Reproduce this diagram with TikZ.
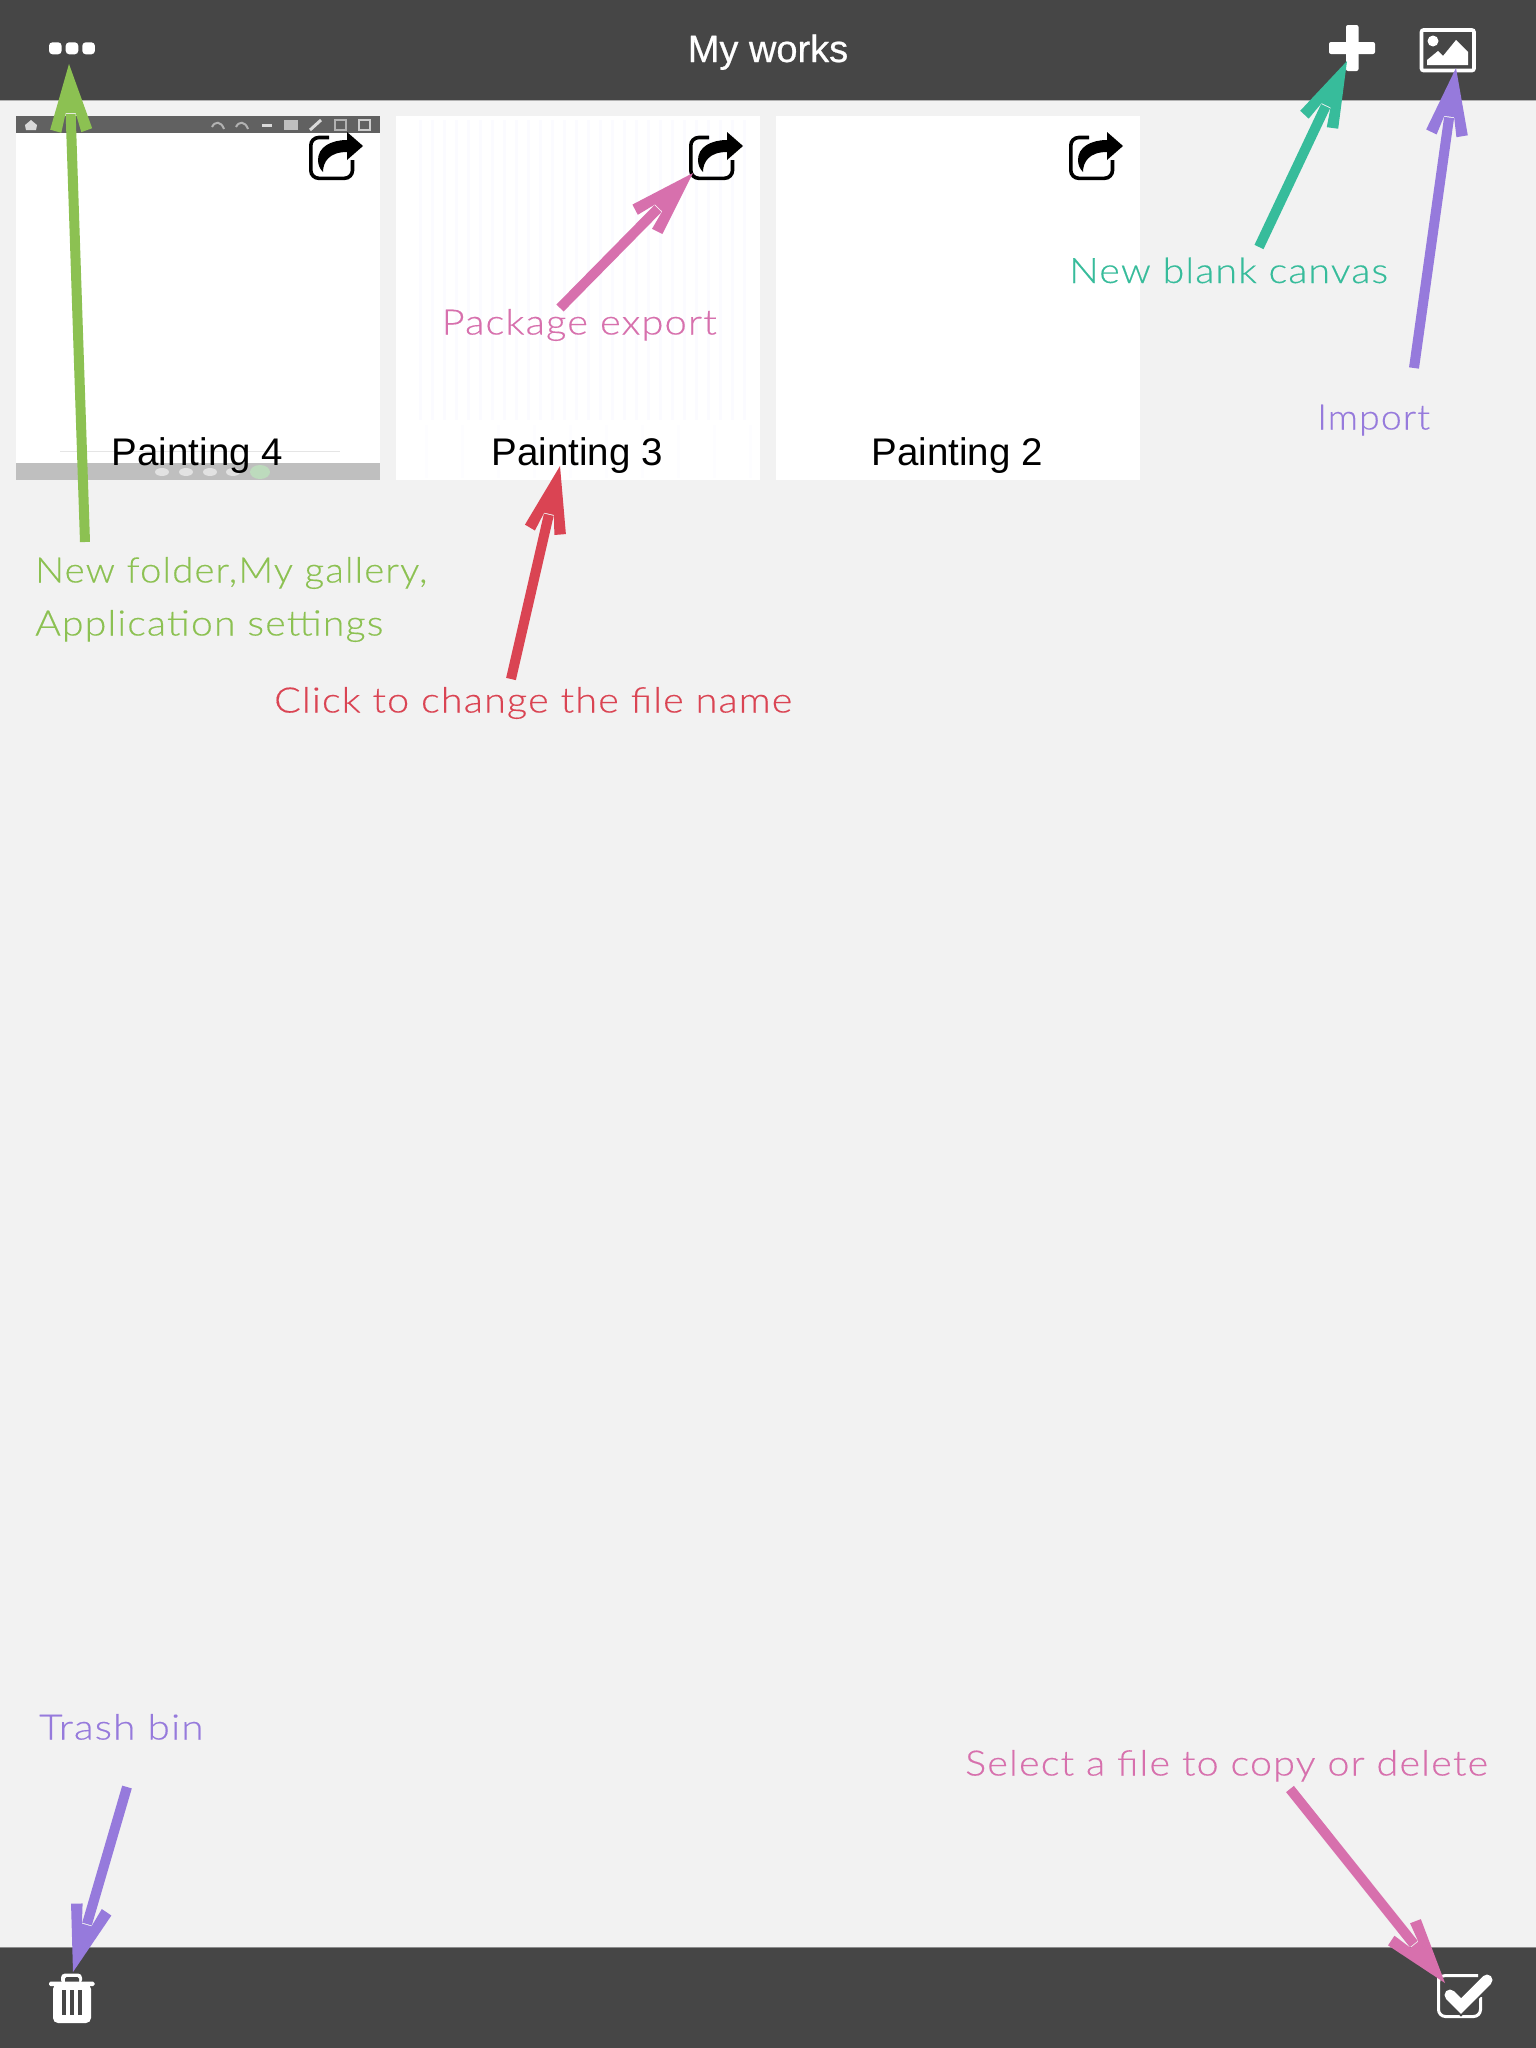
\documentclass[tikz,border=0pt]{standalone}
\usepackage{fontspec}
\usetikzlibrary{arrows.meta}
\setmainfont{Liberation Sans}
\newfontfamily\annfont{Lato}[UprightFont=* Light,LetterSpace=3,FakeBold=0.35]
\newfontfamily\uifont{Liberation Sans}
\newfontfamily\headfont{Liberation Sans}[FakeBold=0.6]
\definecolor{barcol}{HTML}{464646}
\definecolor{bgcol}{HTML}{F2F2F2}
\definecolor{grasscol}{HTML}{8CC152}
\definecolor{mintcol}{HTML}{37BC9B}
\definecolor{lavcol}{HTML}{967ADC}
\definecolor{pinkcol}{HTML}{D770AD}
\definecolor{redcol}{HTML}{DA4453}
\pgfdeclarearrow{
  name=Barb,
  setup code={
    \pgfarrowssettipend{0pt}
    \pgfarrowssetbackend{-68.5pt}
    \pgfarrowssetlineend{-50pt}
    \pgfarrowssetvisualbackend{-49pt}
  },
  drawing code={
    \pgfpathmoveto{\pgfpoint{0pt}{0pt}}
    \pgfpathlineto{\pgfpoint{-65pt}{21pt}}
    \pgfpathlineto{\pgfpoint{-68.5pt}{10pt}}
    \pgfpathlineto{\pgfpoint{-49pt}{5pt}}
    \pgfpathlineto{\pgfpoint{-49pt}{-5pt}}
    \pgfpathlineto{\pgfpoint{-68.5pt}{-10pt}}
    \pgfpathlineto{\pgfpoint{-65pt}{-21pt}}
    \pgfpathclose
    \pgfusepathqfill
  }
}
\tikzset{
  x=1pt,y=-1pt,
  ann/.style={anchor=base west,inner sep=0pt,font=\annfont\fontsize{35}{40}\selectfont},
  title/.style={anchor=base,inner sep=0pt,font=\uifont\fontsize{38.5}{44}\selectfont,text=black},
  callout/.style={line width=10pt,-{Barb}},
  card/.style={fill=white,draw=none},
  pics/shareicon/.style={code={
    \draw[line width=3.6pt,rounded corners=8pt,black] (20,5.5)--(1.8,5.5)--(1.8,46.3)--(43.5,46.3)--(43.5,28);
    \fill[black] (54,14)--(38,0)--(38,8) .. controls (22,8) and (9,15) .. (9,28)
      .. controls (9,33) and (11,37) .. (14,40) .. controls (14,30) and (20,20) .. (38,20)
      --(38,28)--cycle;
  }}
}
\newcommand{\stretched}[2]{\scalebox{#1}[1]{#2}}
\begin{document}
\begin{tikzpicture}
\useasboundingbox (0,0) rectangle (1536,2048);
\fill[bgcol] (0,0) rectangle (1536,2048);
% bars
\fill[barcol] (0,0) rectangle (1536,100);
\fill[barcol] (0,1948) rectangle (1536,2048);
\draw[line width=1pt,color=black!30] (0,100.5)--(1536,100.5);
\draw[line width=1pt,color=black!45] (0,1947.5)--(1536,1947.5);
% cards
\fill[card] (16,116) rectangle (380,480);
\fill[card] (396,116) rectangle (760,480);
\fill[card] (776,116) rectangle (1140,480);
% card 1 thumbnail
\fill[black!62] (16,116) rectangle (380,133);
\fill[black!25] (16,463) rectangle (380,480);
\draw[line width=1pt,black!10] (60,451)--(340,451);
\fill[black!15] (25,125)--(31,120)--(37,125)--(36,130)--(26,130)--cycle;
\foreach \ix in {218,242} \draw[line width=2pt,black!30] (\ix-6,127) .. controls (\ix-3,121) and (\ix+3,121) .. (\ix+6,129);
\fill[black!15] (262,123.5) rectangle (272,126.5);
\fill[black!25] (284,120) rectangle (298,130);
\draw[line width=3pt,black!15] (310,130)--(321,120);
\draw[line width=1.5pt,black!30] (335,120) rectangle (346,130);
\draw[line width=1.5pt,black!20] (359,120) rectangle (370,130);
\foreach \ix in {162,186,210,233} \fill[white,opacity=.55] (\ix,472) ellipse (7 and 4);
\fill[green!30!gray!40] (260,472) ellipse (10 and 7);
% card 2 faint stripes
\foreach \ix in {420,432,...,750} \draw[line width=3pt,color=blue!1.5] (\ix,120)--(\ix,420);
\foreach \ix in {426,462,...,750} \draw[line width=3pt,color=blue!0.7] (\ix,425)--(\ix,478);
% share icons
\pic at (309,132) {shareicon};
\pic at (689,132) {shareicon};
\pic at (1069,132) {shareicon};
% top bar icons
\foreach \ix in {49,65.7,82.3} \fill[white,rounded corners=3.5pt] (\ix,42.3) rectangle (\ix+12.6,54.3);
\node[anchor=base,inner sep=0pt,text=white,font=\headfont\fontsize{38}{42}\selectfont] (worktitle) at (768,62) {My works};
\fill[white,rounded corners=2pt] (1346,25) rectangle (1358.5,71);
\fill[white,rounded corners=2pt] (1329,42) rectangle (1375,54);
\draw[white,line width=3.6pt,rounded corners=2pt] (1421.5,30) rectangle (1474,70.5);
\fill[white] (1433,41) circle (5.5);
\fill[white] (1427,65)--(1427,60)--(1438,51)--(1443,56)--(1456,40)--(1468,52)--(1468,65)--cycle;
% bottom bar icons
\fill[white,rounded corners=4pt] (61,1973.5) rectangle (82,1984);
\fill[barcol,rounded corners=1.5pt] (65,1977) rectangle (79,1984);
\fill[white,rounded corners=1.5pt] (49,1981.7) rectangle (94.7,1986);
\fill[white,rounded corners=5pt] (53,1984) rectangle (91,2023);
\foreach \ix in {61.7,70,78.3} \fill[barcol] (\ix,1990) rectangle (\ix+4,2015);
\draw[white,line width=3pt,rounded corners=7pt] (1478,1975.5)--(1438.5,1975.5)--(1438.5,2016.5)--(1480.5,2016.5)--(1480.5,1997);
\draw[barcol,line width=15pt] (1450,1995)--(1461,2006)--(1487,1980);
\draw[white,line width=11pt,line cap=round,line join=miter] (1450,1995)--(1461,2006)--(1487,1980);
\draw[white,line width=3pt] (1438.5,1985)--(1438.5,1975);
% titles
\node[title] (p4) at (197.5,465) {Painting 4};
\node[title] (p3) at (577,465) {Painting 3};
\node[title] (p2) at (957,465) {Painting 2};
% arrows
\coordinate (gt) at (85,542); \coordinate (gh) at (69,64);
\coordinate (mt) at (1259,247); \coordinate (mh) at (1347,61);
\coordinate (lt) at (1414,368); \coordinate (lh) at (1456,68);
\coordinate (pt) at (560,308); \coordinate (ph) at (693,173);
\coordinate (rt) at (511,679); \coordinate (rh) at (560,466);
\coordinate (tt) at (127,1787); \coordinate (th) at (73,1972);
\coordinate (st) at (1290,1789); \coordinate (sh) at (1445,1983);
\draw[callout,grasscol] (gt)--(gh);
\draw[callout,mintcol] (mt)--(mh);
\draw[callout,lavcol] (lt)--(lh);
\draw[callout,pinkcol] (pt)--(ph);
\draw[callout,redcol] (rt)--(rh);
\draw[callout,lavcol] (tt)--(th);
\draw[callout,pinkcol] (st)--(sh);
% annotations
\node[ann,text=grasscol] (a1) at (35,582.5) {\stretched{1.095}{New folder,My gallery,}};
\node[ann,text=grasscol] (a2) at (35,635.5) {\stretched{1.12}{Application settings}};
\node[ann,text=redcol] (a3) at (274,712.5) {\stretched{1.128}{Click to change the file name}};
\node[ann,text=pinkcol] (a4) at (441.5,334.5) {\stretched{1.135}{Package export}};
\node[ann,text=mintcol] (a5) at (1069,283) {\stretched{1.12}{New blank canvas}};
\node[ann,text=lavcol] (a6) at (1317,429.5) {\stretched{1.07}{Import}};
\node[ann,text=lavcol] (a7) at (39,1739.5) {\stretched{1.155}{Trash bin}};
\node[ann,text=pinkcol] (a8) at (965,1775.5) {\stretched{1.128}{Select a file to copy or delete}};
\end{tikzpicture}
\end{document}
